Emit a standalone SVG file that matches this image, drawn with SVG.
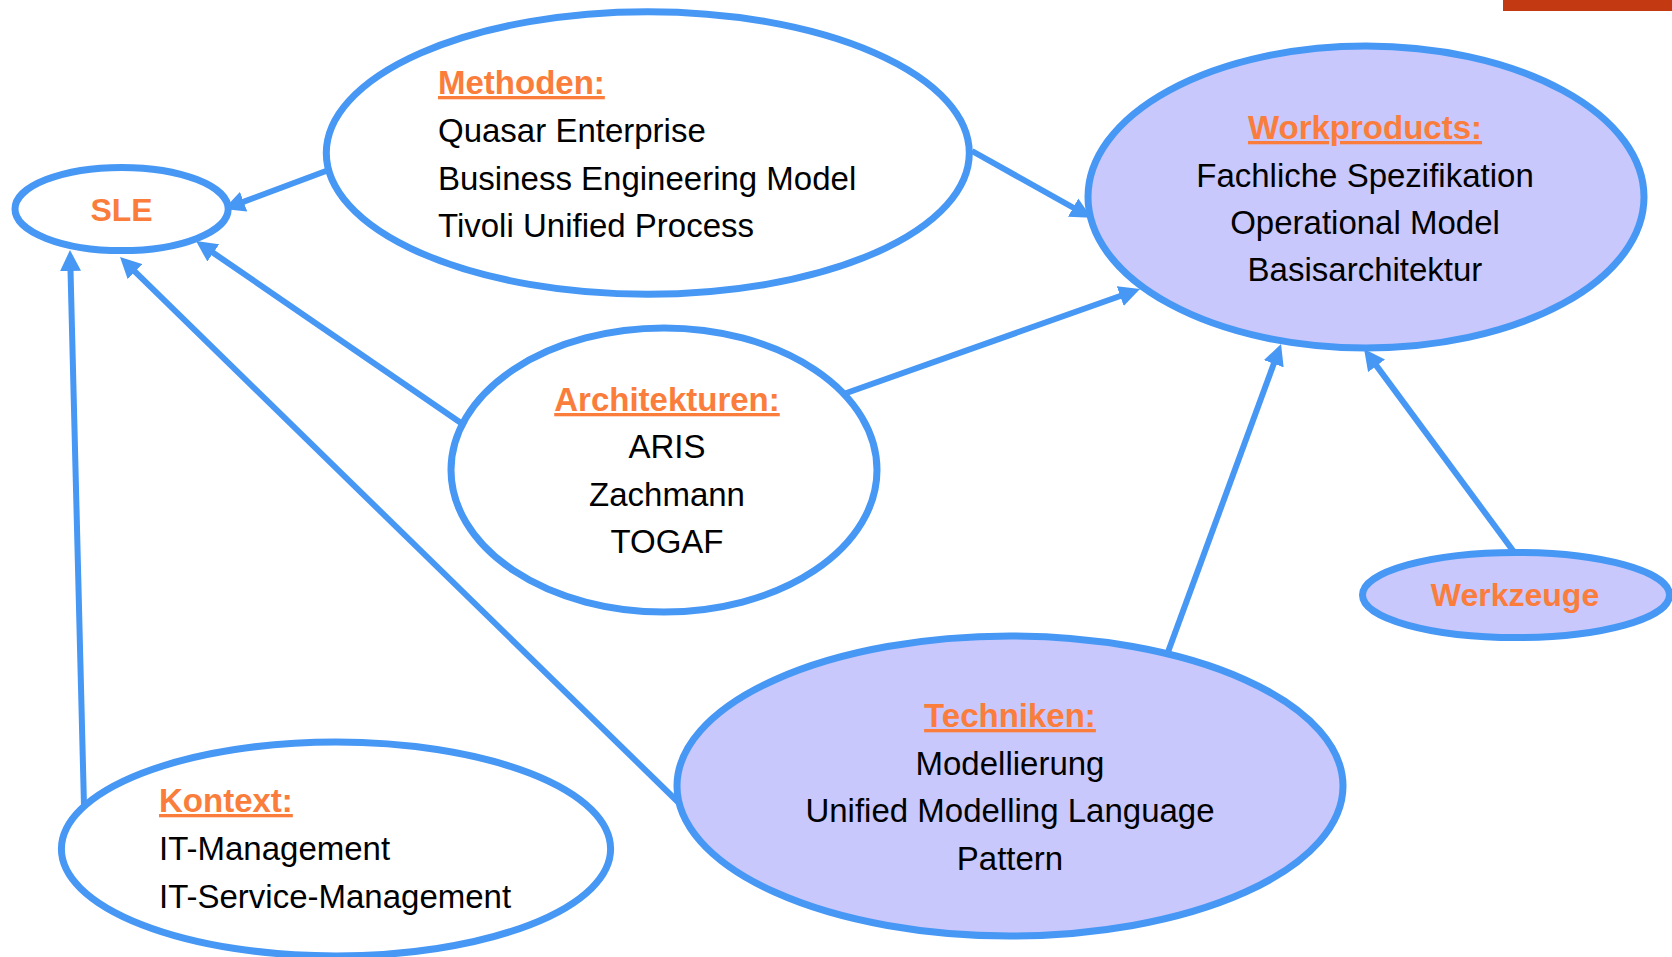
<svg xmlns="http://www.w3.org/2000/svg" width="1672" height="957" viewBox="0 0 1672 957">
<style>
.el{stroke:#4797F5;stroke-width:7}
.w{fill:#FFFFFF}
.p{fill:#C8C8FC}
.t{font-family:"Liberation Sans",Arial,sans-serif;font-size:33px;fill:#000000}
.h{font-family:"Liberation Sans",Arial,sans-serif;font-size:33px;font-weight:bold;fill:#FA7D3C;text-decoration:underline}
.hn{font-family:"Liberation Sans",Arial,sans-serif;font-size:32px;font-weight:bold;fill:#FA7D3C}
.c{stroke:#4797F5;stroke-width:6;fill:none;marker-end:url(#ah)}
</style>
<defs>
<marker id="ah" markerUnits="userSpaceOnUse" markerWidth="22" markerHeight="22" refX="9" refY="10.5" orient="auto" viewBox="0 0 22 21">
<path d="M0,0 L21,10.5 L0,21 Z" fill="#4797F5"/>
</marker>
</defs>
<rect x="1503" y="0" width="169" height="11" fill="#C33A12"/>
<g id="connectors">
<line class="c" x1="326" y1="171" x2="235.2" y2="204.9"/>
<line class="c" x1="461" y1="423" x2="205.9" y2="247.8"/>
<line class="c" x1="678" y1="802" x2="128.6" y2="265.4"/>
<line class="c" x1="84" y1="806" x2="70.3" y2="262"/>
<line class="c" x1="972" y1="151" x2="1081" y2="212"/>
<line class="c" x1="845" y1="393.5" x2="1128.7" y2="293"/>
<line class="c" x1="1168" y1="652" x2="1276.9" y2="355.3"/>
<line class="c" x1="1514" y1="552" x2="1371.2" y2="358.6"/>
</g>
<g id="sle">
<ellipse class="el w" cx="121.6" cy="209" rx="106.6" ry="41.6"/>
<text class="hn" x="121.6" y="220.5" text-anchor="middle">SLE</text>
</g>
<g id="methoden">
<ellipse class="el w" cx="647.8" cy="153" rx="321.5" ry="141.3"/>
<text class="h" x="438" y="94">Methoden:</text>
<text class="t" x="438" y="142">Quasar Enterprise</text>
<text class="t" x="438" y="190">Business Engineering Model</text>
<text class="t" x="438" y="237">Tivoli Unified Process</text>
</g>
<g id="workproducts">
<ellipse class="el p" cx="1366" cy="197" rx="278" ry="151"/>
<text class="h" x="1365" y="139" text-anchor="middle">Workproducts:</text>
<text class="t" x="1365" y="187" text-anchor="middle">Fachliche Spezifikation</text>
<text class="t" x="1365" y="234" text-anchor="middle">Operational Model</text>
<text class="t" x="1365" y="281" text-anchor="middle">Basisarchitektur</text>
</g>
<g id="architekturen">
<ellipse class="el w" cx="664" cy="470" rx="213" ry="142"/>
<text class="h" x="667" y="411" text-anchor="middle">Architekturen:</text>
<text class="t" x="667" y="458" text-anchor="middle">ARIS</text>
<text class="t" x="667" y="506" text-anchor="middle">Zachmann</text>
<text class="t" x="667" y="553" text-anchor="middle">TOGAF</text>
</g>
<g id="werkzeuge">
<ellipse class="el p" cx="1516" cy="595" rx="153.5" ry="42.6"/>
<text class="hn" x="1515" y="606" text-anchor="middle">Werkzeuge</text>
</g>
<g id="techniken">
<ellipse class="el p" cx="1010" cy="786" rx="333" ry="150"/>
<text class="h" x="1010" y="727" text-anchor="middle">Techniken:</text>
<text class="t" x="1010" y="775" text-anchor="middle">Modellierung</text>
<text class="t" x="1010" y="822" text-anchor="middle">Unified Modelling Language</text>
<text class="t" x="1010" y="870" text-anchor="middle">Pattern</text>
</g>
<g id="kontext">
<ellipse class="el w" cx="336" cy="849" rx="274.6" ry="107"/>
<text class="h" x="159" y="812">Kontext:</text>
<text class="t" x="159" y="860">IT-Management</text>
<text class="t" x="159" y="908">IT-Service-Management</text>
</g>
</svg>
